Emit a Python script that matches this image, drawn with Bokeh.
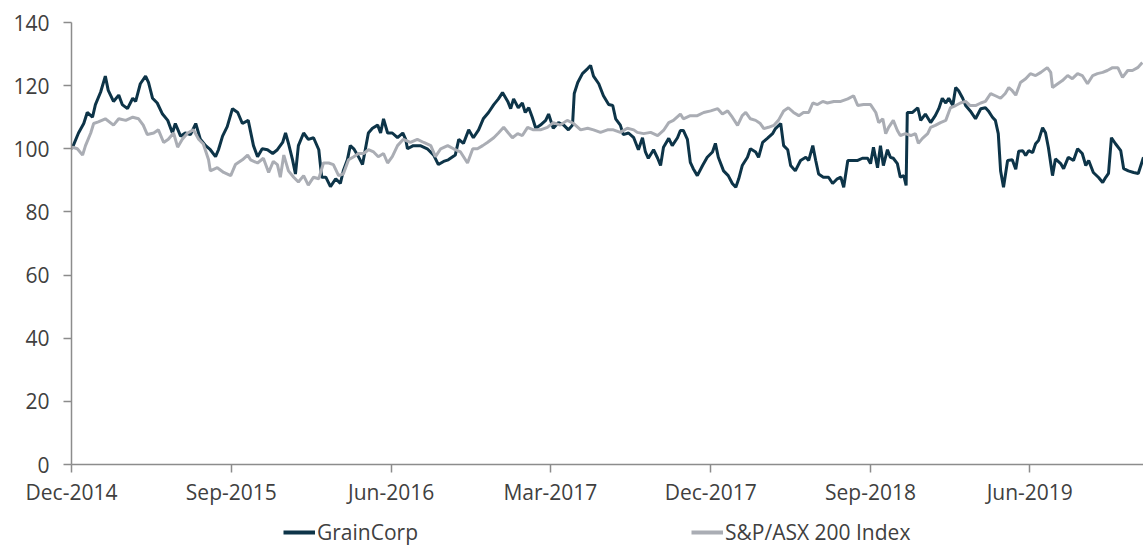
import pandas as pd
from bokeh.plotting import figure
from bokeh.layouts import column
from bokeh.models import (FixedTicker, DatetimeTickFormatter, Legend, LegendItem,
                          Range1d, ColumnDataSource)
from bokeh.embed import file_html
from bokeh.resources import INLINE

start_date = "2014-12-01"
end_day = 1838
tick_dates = ["2014-12-01", "2015-09-01", "2016-06-01", "2017-03-01",
              "2017-12-01", "2018-09-01", "2019-06-01"]
y_ticks = [0, 20, 40, 60, 80, 100, 120, 140]
series_names = ["GrainCorp", "S&P/ASX 200 Index"]

gnc_day = [0, 3, 12, 21, 27, 36, 41, 50, 58, 63, 72, 81, 87, 96, 105, 110, 118, 127, 132, 139,
           147, 156, 165, 173, 178, 187, 195, 204, 213, 221, 230, 238, 247, 252, 259, 267, 276,
           285, 293, 303, 312, 319, 327, 336, 345, 353, 362, 367, 372, 379, 384, 389, 398, 406,
           415, 424, 429, 436, 444, 453, 461, 466, 473, 478, 484, 492, 499, 504, 509, 516, 525,
           530, 535, 542, 550, 559, 568, 573, 576, 586, 598, 610, 621, 629, 638, 646, 658, 664,
           672, 681, 689, 698, 706, 715, 724, 732, 739, 748, 753, 758, 766, 773, 778, 784, 790,
           796, 804, 813, 818, 826, 835, 844, 852, 859, 862, 868, 876, 885, 890, 895, 904, 912,
           921, 928, 933, 941, 946, 955, 964, 972, 979, 984, 989, 998, 1005, 1010, 1015, 1024,
           1030, 1039, 1044, 1049, 1056, 1061, 1066, 1073, 1082, 1090, 1099, 1104, 1109, 1118,
           1126, 1133, 1139, 1144, 1150, 1159, 1164, 1173, 1178, 1185, 1193, 1202, 1207, 1216,
           1221, 1228, 1233, 1241, 1250, 1259, 1264, 1271, 1276, 1281, 1289, 1298, 1305, 1313,
           1319, 1324, 1331, 1339, 1348, 1356, 1365, 1370, 1375, 1382, 1387, 1392, 1399, 1404,
           1409, 1416, 1421, 1427, 1431, 1433, 1442, 1451, 1456, 1464, 1473, 1481, 1487, 1493,
           1499, 1504, 1511, 1516, 1521, 1528, 1533, 1541, 1550, 1559, 1567, 1572, 1579, 1584,
           1589, 1593, 1598, 1605, 1613, 1619, 1624, 1631, 1636, 1641, 1648, 1653, 1658, 1665,
           1670, 1675, 1682, 1687, 1696, 1701, 1709, 1718, 1725, 1733, 1739, 1744, 1752, 1761,
           1768, 1773, 1778, 1783, 1790, 1799, 1804, 1812, 1821, 1829, 1838]
gnc_value = [100, 101, 105, 108, 111.5, 110, 114, 118, 123, 118.5, 115, 117, 114, 112.7, 116, 115,
             120.6, 123, 121, 116, 114.5, 111, 109, 105, 108, 104, 105, 104.5, 108, 103, 101, 99.7,
             97.5, 99.7, 104, 107, 112.7, 111.5, 108, 109, 101, 97.5, 100, 99.7, 98.5, 99.7, 102,
             105, 101.7, 96.5, 92, 101, 105, 103, 103.5, 99.7, 91, 91, 88, 90.5, 89, 93, 96.5, 101,
             100, 97.5, 95, 100, 105, 106.5, 107.5, 105, 109.5, 105, 105, 103.5, 105, 103, 100, 101,
             101, 100, 98, 95, 96, 96.5, 98, 103, 101.7, 106, 103.5, 106, 109.5, 111.5, 114, 115.8,
             117.8, 115, 112.7, 115.8, 113, 114.5, 111.5, 113, 110, 106.5, 107.5, 109, 111, 106.5,
             108.3, 107.5, 106, 107.5, 117.5, 121, 123.8, 125.4, 126.4, 123, 120.6, 116.8, 114,
             113.7, 109.5, 107.5, 104.5, 105, 103.5, 99.7, 103.5, 99, 97, 99.7, 97, 94.7, 100.5,
             103.3, 101, 103.5, 105.8, 105.8, 103, 95.7, 93.7, 91.5, 94.7, 97.3, 99, 101.7, 97.3,
             93, 91.5, 89, 87.8, 90.5, 94.7, 97.3, 100, 99, 97.3, 102, 103.3, 104.8, 106.4, 108,
             101, 99.7, 94.7, 93, 96.3, 97.3, 96.3, 101, 96.3, 92, 91, 91, 89, 90.5, 91, 87.8, 96.3,
             96.3, 96.3, 97, 97, 95.3, 100.5, 94, 101, 94.7, 99.7, 97.3, 97, 95.3, 91, 91.5, 88.4,
             111.5, 111.5, 113, 109, 111, 108.3, 110.5, 112.7, 116, 114.5, 116, 113.7, 119.4, 118.4,
             116, 113.7, 112, 109.5, 112.7, 113, 112, 110, 109, 104.8, 93, 87.8, 96.3, 96.5, 93.5,
             99.2, 99.4, 97.9, 99.4, 98.8, 101.6, 102.6, 106.7, 105.1, 100.3, 91.5, 96.8, 95.3,
             93.7, 97.3, 96.3, 100, 98.5, 94.7, 96.3, 92.5, 90.9, 89.3, 90.9, 92.2, 103.5, 101.6,
             99.4, 93.7, 93, 92.5, 92.2, 97.3]

asx_day = [0, 2, 10, 19, 24, 33, 38, 46, 58, 72, 81, 93, 105, 115, 123, 130, 141, 149, 158, 166,
           175, 182, 190, 199, 209, 218, 226, 235, 238, 250, 261, 273, 281, 293, 302, 307, 319,
           329, 338, 346, 353, 358, 364, 372, 381, 389, 398, 406, 415, 424, 432, 441, 449, 458,
           466, 475, 484, 492, 501, 509, 518, 526, 535, 542, 550, 559, 569, 581, 593, 604, 616,
           624, 633, 645, 655, 667, 679, 688, 696, 705, 713, 724, 732, 741, 749, 756, 765, 773,
           782, 792, 804, 816, 826, 838, 850, 861, 873, 885, 895, 907, 919, 929, 941, 953, 964,
           970, 981, 993, 1005, 1015, 1024, 1032, 1044, 1049, 1061, 1073, 1084, 1096, 1108, 1116,
           1125, 1133, 1142, 1150, 1156, 1164, 1173, 1181, 1187, 1195, 1204, 1212, 1221, 1229,
           1238, 1247, 1255, 1264, 1271, 1279, 1288, 1296, 1307, 1319, 1331, 1341, 1348, 1358,
           1370, 1379, 1384, 1391, 1396, 1401, 1409, 1416, 1421, 1430, 1439, 1447, 1452, 1459,
           1468, 1473, 1481, 1490, 1499, 1507, 1516, 1524, 1533, 1541, 1550, 1559, 1567, 1576,
           1584, 1593, 1601, 1607, 1613, 1619, 1627, 1636, 1644, 1653, 1662, 1673, 1679, 1682,
           1691, 1699, 1708, 1716, 1725, 1733, 1742, 1751, 1759, 1768, 1776, 1785, 1794, 1802,
           1811, 1819, 1828, 1836]
asx_value = [100, 100.5, 100, 98, 101, 105, 108, 108.5, 109.5, 107.5, 109.5, 109, 110, 109.5, 107.5,
             104.5, 105, 106, 102, 103, 105, 100.5, 103, 105, 106, 103, 101.5, 96.5, 93, 94, 92.5,
             91.5, 95, 96.5, 98, 96.5, 95.5, 97, 92.5, 96, 95, 91, 98, 93, 91, 89.5, 91.5, 88.5, 91,
             90.5, 95.5, 95.5, 95, 91.5, 92, 96.5, 97.5, 98.5, 98.5, 99.7, 99, 97.5, 98.5, 95.5,
             97.5, 101, 103, 102, 103, 102, 101, 97.5, 100, 101, 100, 99, 95.5, 100, 100, 101, 102,
             103.5, 105, 106.8, 105, 103.5, 104.8, 104.2, 106.8, 106, 106, 106.8, 108.3, 107.5, 109,
             108, 106, 106.5, 106, 105.2, 106, 106, 105.2, 106.5, 106, 105.2, 104.8, 105.2, 104.2,
             105.8, 108.3, 109, 111, 109.5, 110.5, 110.5, 111.5, 112, 112.7, 111, 112, 110, 107.4,
             110.5, 111.5, 109.5, 109, 108, 106.4, 106.8, 107.4, 109, 112, 113, 111.5, 110.5, 111.5,
             111.5, 114.5, 114, 115, 114.5, 115, 115, 115.8, 116.8, 113.7, 114, 114, 111.5, 108.3,
             109.5, 104.8, 106.8, 109, 105.8, 104.2, 104.8, 104.2, 104.8, 101.7, 103.3, 104.8,
             106.8, 107.4, 108.3, 109, 113, 113.7, 114.5, 115, 113.7, 113.7, 114.5, 115, 117.5,
             116.8, 116, 117.5, 119.4, 118.4, 117, 121, 122.2, 123.8, 123.2, 124.2, 125.7, 124.2,
             119.4, 120.6, 121.6, 123.2, 122.2, 123.8, 123.2, 120.6, 123.2, 123.8, 124.2, 124.8,
             125.7, 125.7, 122.6, 124.8, 124.8, 125.7, 127.3]

t0 = pd.Timestamp(start_date)
gnc_src = ColumnDataSource(dict(date=t0 + pd.to_timedelta(gnc_day, unit="D"), value=gnc_value))
asx_src = ColumnDataSource(dict(date=t0 + pd.to_timedelta(asx_day, unit="D"), value=asx_value))

FONT = "Open Sans"
TXT = "#404040"
AXIS = "#8c8c8c"
C_GNC = "#0d3448"
C_ASX = "#aaadb4"

# ---- main chart ----
p = figure(width=1143, height=510, x_axis_type="datetime", output_backend="svg",
           toolbar_location=None, min_border_left=71, min_border_right=0,
           min_border_top=22, min_border_bottom=46,
           x_range=Range1d(t0, t0 + pd.Timedelta(days=end_day)),
           y_range=Range1d(0, 140))
p.frame_width = 1072
p.frame_height = 442
p.outline_line_color = None
p.grid.visible = False
p.background_fill_color = "white"

p.line("date", "value", source=gnc_src, line_color=C_GNC, line_width=3)
p.line("date", "value", source=asx_src, line_color=C_ASX, line_width=3)

xa = p.xaxis[0]
xa.ticker = FixedTicker(ticks=[pd.Timestamp(d).value / 1e6 for d in tick_dates])
xa.formatter = DatetimeTickFormatter(days="%b-%Y", months="%b-%Y", years="%b-%Y",
                                     hours="%b-%Y", minutes="%b-%Y", seconds="%b-%Y",
                                     milliseconds="%b-%Y", microseconds="%b-%Y")
ya = p.yaxis[0]
ya.ticker = FixedTicker(ticks=y_ticks)
for ax in (xa, ya):
    ax.axis_line_color = AXIS
    ax.axis_line_width = 1.5
    ax.major_tick_line_color = AXIS
    ax.major_tick_line_width = 1.5
    ax.major_tick_in = 0
    ax.major_tick_out = 8
    ax.minor_tick_line_color = None
    ax.major_label_text_font = FONT
    ax.major_label_text_font_size = "21px"
    ax.major_label_text_color = TXT
xa.major_label_standoff = 5
ya.major_label_standoff = 14

# ---- legend strip below the chart (its frame is aligned with the chart's frame) ----
lg = figure(width=1143, height=36, output_backend="svg", toolbar_location=None,
            x_axis_location=None, y_axis_location=None,
            min_border_left=0, min_border_right=0, min_border_top=0, min_border_bottom=0,
            x_range=Range1d(0, 1), y_range=Range1d(0, 1))
lg.outline_line_color = None
lg.grid.visible = False
nan = float("nan")
k1 = lg.line(x=[nan], y=[nan], line_color=C_GNC, line_width=4)
k2 = lg.line(x=[nan], y=[nan], line_color=C_ASX, line_width=4)
legend = Legend(items=[LegendItem(label=series_names[0], renderers=[k1]),
                       LegendItem(label=series_names[1], renderers=[k2])],
                location=(212, 0), orientation="horizontal", padding=0, margin=0,
                spacing=273, glyph_width=32, glyph_height=20, label_standoff=2,
                label_text_font=FONT, label_text_font_size="21px", label_text_color=TXT,
                border_line_color=None, background_fill_alpha=0)
lg.add_layout(legend, "center")

layout = column(p, lg, spacing=0)
open("out.html", "w").write(file_html(layout, INLINE))
